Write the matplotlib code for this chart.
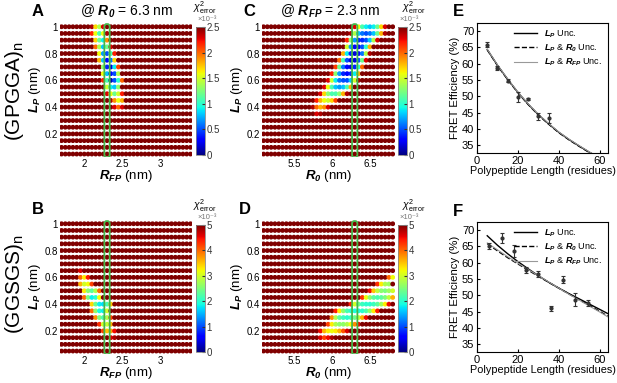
import numpy as np
import matplotlib
matplotlib.use('Agg')
import matplotlib.pyplot as plt
from matplotlib.patches import FancyBboxPatch

plt.rcParams['font.family'] = ['Liberation Sans', 'DejaVu Sans']
plt.rcParams['mathtext.fontset'] = 'custom'
plt.rcParams['mathtext.rm'] = 'Liberation Sans'
plt.rcParams['mathtext.it'] = 'Liberation Sans:italic'
plt.rcParams['mathtext.bf'] = 'Liberation Sans:bold'
plt.rcParams['mathtext.bfit'] = 'Liberation Sans:bold:italic'

# grid of fitted parameters
lp_grid = np.round(np.arange(0.05, 1.0001, 0.05), 2)
rfp_grid = np.round(np.arange(1.70, 3.4001, 0.05), 2)
r0_grid = np.round(np.arange(5.10, 6.8001, 0.05), 2)

# chi^2 (x1e-3): (Lp, first x, values); all other cells are off-scale (dark red)
a_rows = [
    (1.00, 2.10, [2.4, 1.7, 1.4, 2.3]),
    (0.95, 2.10, [2.2, 1.6, 1.1, 1.6, 2.4]),
    (0.90, 2.15, [1.7, 1.2, 0.9, 1.9]),
    (0.85, 2.15, [2.0, 1.4, 0.8, 1.2, 2.3]),
    (0.80, 2.20, [1.6, 0.7, 0.5, 1.1, 2.2]),
    (0.75, 2.20, [1.8, 0.8, 0.3, 0.6, 1.7]),
    (0.70, 2.25, [1.3, 0.4, 0.2, 0.9, 2.1]),
    (0.65, 2.25, [1.6, 0.8, 0.3, 0.5, 1.4]),
    (0.60, 2.25, [2.2, 1.1, 0.1, 0.5, 1.0, 2.0]),
    (0.55, 2.30, [1.5, 0.9, 0.8, 1.3]),
    (0.50, 2.30, [2.3, 1.6, 1.2, 1.5, 2.2]),
    (0.45, 2.35, [2.4, 1.9, 1.6, 1.8]),
    (0.40, 2.40, [2.3, 2.0, 2.3]),
]
c_rows = [
    (1.00, 6.30, [2.3, 1.6, 1.1, 0.9, 0.8, 0.9, 1.2, 1.7, 2.3]),
    (0.95, 6.25, [2.4, 1.4, 0.8, 0.6, 0.5, 0.6, 0.8, 1.2, 1.8, 2.4]),
    (0.90, 6.20, [2.2, 1.3, 0.7, 0.4, 0.4, 0.5, 0.8, 1.4, 2.3]),
    (0.85, 6.20, [1.5, 0.7, 0.3, 0.3, 0.5, 1.0, 1.8]),
    (0.80, 6.15, [1.8, 0.9, 0.4, 0.2, 0.3, 0.6, 1.4, 2.4]),
    (0.75, 6.10, [2.0, 1.1, 0.5, 0.2, 0.2, 0.5, 1.2, 2.3]),
    (0.70, 6.05, [2.1, 1.2, 0.6, 0.3, 0.2, 0.4, 1.0, 2.0]),
    (0.65, 6.00, [2.2, 1.3, 0.7, 0.4, 0.3, 0.4, 0.9, 1.8]),
    (0.60, 5.95, [2.3, 1.5, 0.9, 0.6, 0.5, 0.5, 0.8, 1.5, 2.4]),
    (0.55, 5.90, [2.3, 1.6, 1.1, 0.8, 0.7, 0.8, 1.1, 1.8]),
    (0.50, 5.85, [2.3, 1.7, 1.3, 1.1, 1.1, 1.3, 1.8, 2.4]),
    (0.45, 5.80, [2.2, 1.8, 1.6, 1.5, 1.7, 2.1]),
    (0.40, 5.75, [2.4, 2.0, 1.8, 1.9, 2.3]),
    (0.35, 5.80, [2.3, 2.4]),
]
b_rows = [
    (0.65, 1.95, [4.6]),
    (0.60, 1.95, [4.0, 3.3, 4.4]),
    (0.55, 1.95, [3.6, 3.0, 3.2, 4.2]),
    (0.50, 2.00, [3.3, 2.6, 2.3, 2.8, 4.0]),
    (0.45, 2.00, [4.0, 2.5, 1.8, 2.0, 3.2]),
    (0.40, 2.10, [3.4, 2.4, 1.8, 1.7, 2.2, 3.5]),
    (0.35, 2.10, [4.0, 2.6, 1.9, 1.8, 3.0]),
    (0.30, 2.15, [3.8, 2.5, 2.2, 2.8, 4.2]),
    (0.25, 2.20, [4.3, 3.0, 2.9, 3.6]),
    (0.20, 2.25, [4.2, 3.5, 3.7, 4.5]),
    (0.15, 2.35, [4.6, 4.8]),
]
d_rows = [
    (0.60, 6.75, [4.0, 3.2]),
    (0.55, 6.60, [4.3, 3.3, 2.8, 2.7]),
    (0.50, 6.50, [4.5, 3.5, 2.9, 2.6, 2.5, 2.7, 3.0]),
    (0.45, 6.40, [4.3, 3.2, 2.6, 2.3, 2.2, 2.3, 2.5, 2.9, 3.6]),
    (0.40, 6.25, [4.4, 3.0, 2.4, 2.1, 2.0, 2.0, 2.1, 2.3, 2.7, 3.3, 4.5]),
    (0.35, 6.05, [4.4, 3.3, 2.6, 2.2, 2.0, 1.9, 1.9, 2.0, 2.2, 2.6, 3.3, 4.4]),
    (0.30, 6.00, [3.8, 2.8, 2.3, 2.1, 2.0, 2.1, 2.4, 2.9, 3.6, 4.5]),
    (0.25, 5.95, [4.2, 3.3, 2.8, 2.6, 2.6, 2.8, 3.2, 3.8, 4.5]),
    (0.20, 5.85, [4.5, 3.6, 3.3, 3.2, 3.3, 3.6, 4.1, 4.6]),
    (0.15, 5.85, [4.6, 4.2, 4.5, 4.8]),
]

# FRET data
e_len = [5, 10, 15, 20, 25, 30, 35]
e_fret = [65.8, 58.7, 54.8, 49.9, 49.2, 43.9, 43.3]
e_err = [0.8, 0.7, 0.5, 1.5, 0.3, 1.0, 1.5]
f_len = [6, 12, 18, 24, 30, 36, 42, 48, 54]
f_fret = [65.1, 67.4, 63.6, 57.8, 56.4, 46.0, 54.8, 48.6, 47.6]
f_err = [1.0, 1.5, 1.8, 1.0, 0.9, 0.8, 1.0, 2.0, 1.0]

fit_len = [5, 10, 15, 20, 25, 30, 35, 40, 45, 50, 55, 60, 64]
e_fit_lp = [64.3, 59.5, 55.2, 51.2, 47.6, 44.4, 41.6, 39.0, 36.8, 34.8, 32.9, 31.2, 30.0]
e_fit_lp_r0 = [64.2, 59.4, 55.1, 51.1, 47.5, 44.3, 41.5, 38.9, 36.7, 34.7, 32.8, 31.1, 29.9]
e_fit_lp_rfp = [64.4, 59.6, 55.3, 51.3, 47.7, 44.5, 41.7, 39.1, 36.9, 34.9, 33.0, 31.3, 30.1]
f_fit_lp = [68.2, 65.3, 62.7, 60.3, 58.1, 56.0, 54.0, 52.2, 50.5, 48.9, 47.3, 45.7, 44.4]
f_fit_lp_r0 = [65.8, 63.6, 61.5, 59.6, 57.7, 55.8, 54.0, 52.2, 50.4, 48.6, 46.9, 45.1, 43.6]
f_fit_lp_rfp = [66.0, 63.9, 61.8, 59.8, 57.9, 56.0, 54.1, 52.2, 50.3, 48.5, 46.7, 44.9, 43.4]

W, H = 617, 383
fig = plt.figure(figsize=(W / 100, H / 100), dpi=100)


def px_axes(l, t, r, b):
    return fig.add_axes([l / W, 1 - b / H, (r - l) / W, (b - t) / H])


def chi_map(xgrid, rows, vmax):
    z = np.full((len(lp_grid), len(xgrid)), vmax * 3.0)
    for lp, x0, vals in rows:
        i = int(round((lp - 0.05) / 0.05))
        j = int(round((x0 - xgrid[0]) / 0.05))
        z[i, j:j + len(vals)] = vals
    return z


green = '#45b649'


def heat_panel(box, cbox, xgrid, rows, vmax, xlim, xticks, xlabel, box_x, chi_dx):
    ax = px_axes(*box)
    z = chi_map(xgrid, rows, vmax)
    X, Y = np.meshgrid(xgrid, lp_grid)
    sc = ax.scatter(X.ravel(), Y.ravel(), c=z.ravel(), cmap='jet', vmin=0, vmax=vmax,
                    s=12, marker='o', linewidths=0)
    ax.add_patch(FancyBboxPatch((box_x - 0.035, 0.025), 0.07, 0.995,
                                boxstyle='round,pad=0,rounding_size=0.03',
                                mutation_aspect=0.6, fc='none', ec=green, lw=1.3, zorder=5))
    ax.set_xlim(*xlim)
    ax.set_ylim(0.028, 1.028)
    for s in ax.spines.values():
        s.set_visible(False)
    ax.set_xticks(xticks)
    ax.set_xticklabels([f'{t:g}' for t in xticks])
    ax.set_yticks([0.2, 0.4, 0.6, 0.8, 1.0])
    ax.set_yticklabels(['0.2', '0.4', '0.6', '0.8', '1'])
    ax.tick_params(length=0, labelsize=7, pad=1.5)
    ax.set_xlabel(xlabel, fontsize=9.5, labelpad=-1)
    ax.set_ylabel(r'$\mathbfit{L_P}$ (nm)', fontsize=9.5, labelpad=1)

    cax = px_axes(*cbox)
    cb = fig.colorbar(sc, cax=cax)
    step = vmax / 5
    cb.set_ticks(np.arange(0, vmax + 0.001, step))
    cb.set_ticklabels([f'{t:g}' for t in np.arange(0, vmax + 0.001, step)])
    cb.ax.tick_params(labelsize=7, length=2, direction='in', pad=1, colors='#333333')
    cb.outline.set_edgecolor('#888888')
    cb.outline.set_linewidth(0.6)
    cx = (cbox[0] + cbox[2]) / 2
    fig.text((cx + chi_dx) / W, 1 - (cbox[1] - 16) / H, r'$\chi^2_{\mathrm{error}}$', fontsize=7.5,
             ha='center', va='baseline')
    fig.text((cx + 7) / W, 1 - (cbox[1] - 7.5) / H, '\u00d710\u207b\u00b3', fontsize=5.5,
             ha='center', va='center', color='#777777')
    return ax


heat_panel((60, 23, 192, 157), (196, 27, 205, 155), rfp_grid, a_rows, 2.5,
           (1.68, 3.42), [2, 2.5, 3], r'$\mathbfit{R_{FP}}$ (nm)', 2.3, 4)
heat_panel((262, 23, 395, 157), (398, 27, 407, 155), r0_grid, c_rows, 2.5,
           (5.08, 6.83), [5.5, 6, 6.5], r'$\mathbfit{R_0}$ (nm)', 6.3, 11)
heat_panel((60, 220, 192, 354), (196, 225, 205, 352), rfp_grid, b_rows, 5,
           (1.68, 3.42), [2, 2.5, 3], r'$\mathbfit{R_{FP}}$ (nm)', 2.3, 4)
heat_panel((262, 220, 395, 354), (398, 225, 407, 352), r0_grid, d_rows, 5,
           (5.08, 6.83), [5.5, 6, 6.5], r'$\mathbfit{R_0}$ (nm)', 6.3, 11)


def fret_panel(box, x, y, err, fits):
    ax = px_axes(*box)
    ax.errorbar(x, y, yerr=err, fmt='o', ms=2, color='#333333', ecolor='#333333',
                elinewidth=0.8, capsize=1.5, capthick=0.8, zorder=4)
    ax.plot(fit_len, fits[0], '-', color='black', lw=1.0,
            label=r'$\mathbfit{L_P}$ Unc.')
    ax.plot(fit_len, fits[1], '--', color='black', lw=1.0,
            label=r'$\mathbfit{L_P}$ & $\mathbfit{R_0}$ Unc.')
    ax.plot(fit_len, fits[2], '-', color='#999999', lw=0.8,
            label=r'$\mathbfit{L_P}$ & $\mathbfit{R_{FP}}$ Unc.')
    ax.set_xlim(0, 64)
    ax.set_ylim(32.7, 72.4)
    ax.set_xticks([0, 20, 40, 60])
    ax.set_yticks([35, 40, 45, 50, 55, 60, 65, 70])
    ax.tick_params(direction='in', length=2.5, labelsize=8, pad=2)
    for s in ax.spines.values():
        s.set_linewidth(0.8)
    ax.set_xlabel('Polypeptide Length (residues)', fontsize=7.8, labelpad=0)
    ax.set_ylabel('FRET Efficiency (%)', fontsize=8.2, labelpad=1)
    leg = ax.legend(loc='upper right', fontsize=6.5, frameon=True, fancybox=False,
                    framealpha=0, edgecolor='black', borderaxespad=0.3,
                    handlelength=2.6, labelspacing=0.3, borderpad=0.3)
    leg.get_frame().set_linewidth(0.8)
    return ax


fret_panel((477, 23, 608, 153), e_len, e_fret, e_err, (e_fit_lp, e_fit_lp_r0, e_fit_lp_rfp))
fret_panel((477, 222, 608, 352), f_len, f_fret, f_err, (f_fit_lp, f_fit_lp_r0, f_fit_lp_rfp))

# panel letters and titles
for letter, x, y in [('A', 38, 12), ('C', 249, 12), ('E', 458, 12),
                     ('B', 38, 210), ('D', 245, 210), ('F', 458, 211)]:
    fig.text(x / W, 1 - y / H, letter, fontsize=12, fontweight='bold', ha='center', va='center')
fig.text(127 / W, 1 - 11 / H, r'@ $\mathbfit{R_0}$ = 6.3 nm', fontsize=10, ha='center', va='center')
fig.text(330 / W, 1 - 11 / H, r'@ $\mathbfit{R_{FP}}$ = 2.3 nm', fontsize=10, ha='center', va='center')
fig.text(15 / W, 1 - 91 / H, r'(GPGGA)$_\mathrm{n}$', fontsize=15, rotation=90, ha='center', va='center')
fig.text(15 / W, 1 - 284 / H, r'(GGSGS)$_\mathrm{n}$', fontsize=15, rotation=90, ha='center', va='center')

fig.savefig('out.png', dpi=100)
